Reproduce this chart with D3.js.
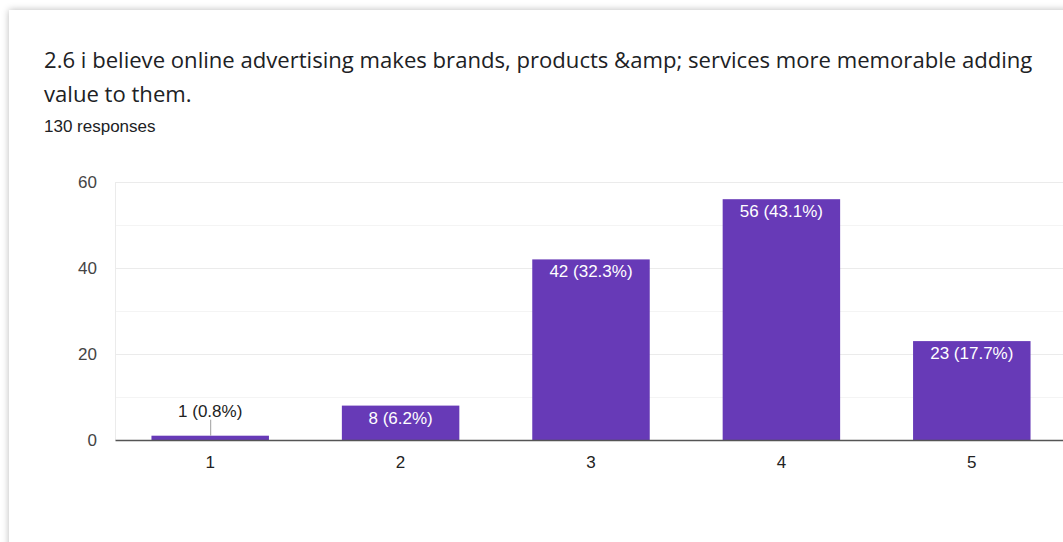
<!DOCTYPE html>
<html>
<head>
<meta charset="utf-8">
<script src="https://cdn.jsdelivr.net/npm/d3@7"></script>
<style>
  html, body { margin: 0; padding: 0; background: #ffffff; overflow: hidden; }
  body { width: 1063px; height: 542px; position: relative; }
  .card {
    position: absolute; left: 9px; top: 10px; width: 1100px; height: 600px;
    background: #fff; box-shadow: 0 0 7px rgba(0,0,0,0.28);
  }
  svg { position: absolute; left: 0; top: 0; }
</style>
</head>
<body>
<div class="card"></div>
<svg id="chart" width="1063" height="542"></svg>
<script>
// Survey question and response summary
const titleLines = [
  "2.6 i believe online advertising makes brands, products &amp; services more memorable adding",
  "value to them."
];
const responseNote = "130 responses";

// Likert scale answers and counts
const categories = ["1", "2", "3", "4", "5"];
const counts = [1, 8, 42, 56, 23];
const percents = ["0.8%", "6.2%", "32.3%", "43.1%", "17.7%"];
const yTicks = [0, 20, 40, 60];
const yGrid = [0, 10, 20, 30, 40, 50, 60];

const svg = d3.select("#chart");

// Header text
const titleFont = "'Open Sans', 'Noto Sans', sans-serif";
svg.selectAll("text.title").data(titleLines).join("text")
  .attr("class", "title")
  .attr("x", 44).attr("y", (d, i) => 68 + i * 34)
  .attr("font-family", titleFont)
  .attr("font-size", 22.1)
  .attr("fill", "#202124")
  .text(d => d);

svg.append("text")
  .attr("x", 44).attr("y", 132)
  .attr("font-family", "Arial, 'Liberation Sans', sans-serif")
  .attr("font-size", 17)
  .attr("fill", "#202124")
  .text(responseNote);

// Plot area
const plotLeft = 115, plotRight = 1067, plotTop = 182, plotBottom = 440;
const x = d3.scaleBand().domain(categories).range([plotLeft, plotRight]).paddingInner(0.383).paddingOuter(0.1915);
const y = d3.scaleLinear().domain([0, 60]).range([plotBottom, plotTop]);

const g = svg.append("g");
const numFont = "Arial, 'Liberation Sans', sans-serif";
const numSize = 17;

// Gridlines (major every 20, minor in between)
g.selectAll("line.grid").data(yGrid.filter(v => v !== 0)).join("line")
  .attr("class", "grid")
  .attr("x1", plotLeft).attr("x2", plotRight)
  .attr("y1", d => y(d) + 0.5).attr("y2", d => y(d) + 0.5)
  .attr("stroke", d => d % 20 === 0 ? "#ebebeb" : "#f4f4f4")
  .attr("stroke-width", 1);

// Left plot edge
g.append("line")
  .attr("x1", plotLeft + 0.5).attr("x2", plotLeft + 0.5)
  .attr("y1", plotTop).attr("y2", plotBottom)
  .attr("stroke", "#ebebeb");

// Y axis labels
const yAxis = d3.axisLeft(y).tickValues(yTicks).tickSize(0).tickPadding(18);
const yAx = svg.append("g").attr("transform", `translate(${plotLeft},0)`).call(yAxis);
yAx.select(".domain").remove();
yAx.selectAll("text")
  .attr("font-family", numFont)
  .attr("font-size", numSize)
  .attr("fill", "#444");

// Bars
g.selectAll("rect.bar").data(counts).join("rect")
  .attr("class", "bar")
  .attr("x", (d, i) => x(categories[i]))
  .attr("width", x.bandwidth())
  .attr("y", d => y(d))
  .attr("height", d => y(0) - y(d))
  .attr("fill", "#673ab7");

// X axis baseline and labels
const xAxis = d3.axisBottom(x).tickSize(0).tickPadding(16);
const xAx = svg.append("g").attr("transform", `translate(0,${plotBottom})`).call(xAxis);
xAx.select(".domain").attr("stroke", "#555").attr("stroke-width", 1.5);
xAx.selectAll("text")
  .attr("font-family", numFont)
  .attr("font-size", numSize)
  .attr("fill", "#222");

// Value labels: inside tall bars, above short ones with a leader line
counts.forEach((v, i) => {
  const cx = x(categories[i]) + x.bandwidth() / 2;
  const label = `${v} (${percents[i]})`;
  const inside = (y(0) - y(v)) > 24;
  if (inside) {
    g.append("text")
      .attr("x", cx).attr("y", y(v) + 18)
      .attr("text-anchor", "middle")
      .attr("font-family", numFont).attr("font-size", numSize)
      .attr("fill", "#ffffff")
      .text(label);
  } else {
    g.append("line")
      .attr("x1", cx + 0.5).attr("x2", cx + 0.5)
      .attr("y1", y(v)).attr("y2", y(v) - 16)
      .attr("stroke", "#9e9e9e").attr("stroke-width", 1);
    g.append("text")
      .attr("x", cx).attr("y", y(v) - 19)
      .attr("text-anchor", "middle")
      .attr("font-family", numFont).attr("font-size", numSize)
      .attr("fill", "#222")
      .text(label);
  }
});
</script>
</body>
</html>
